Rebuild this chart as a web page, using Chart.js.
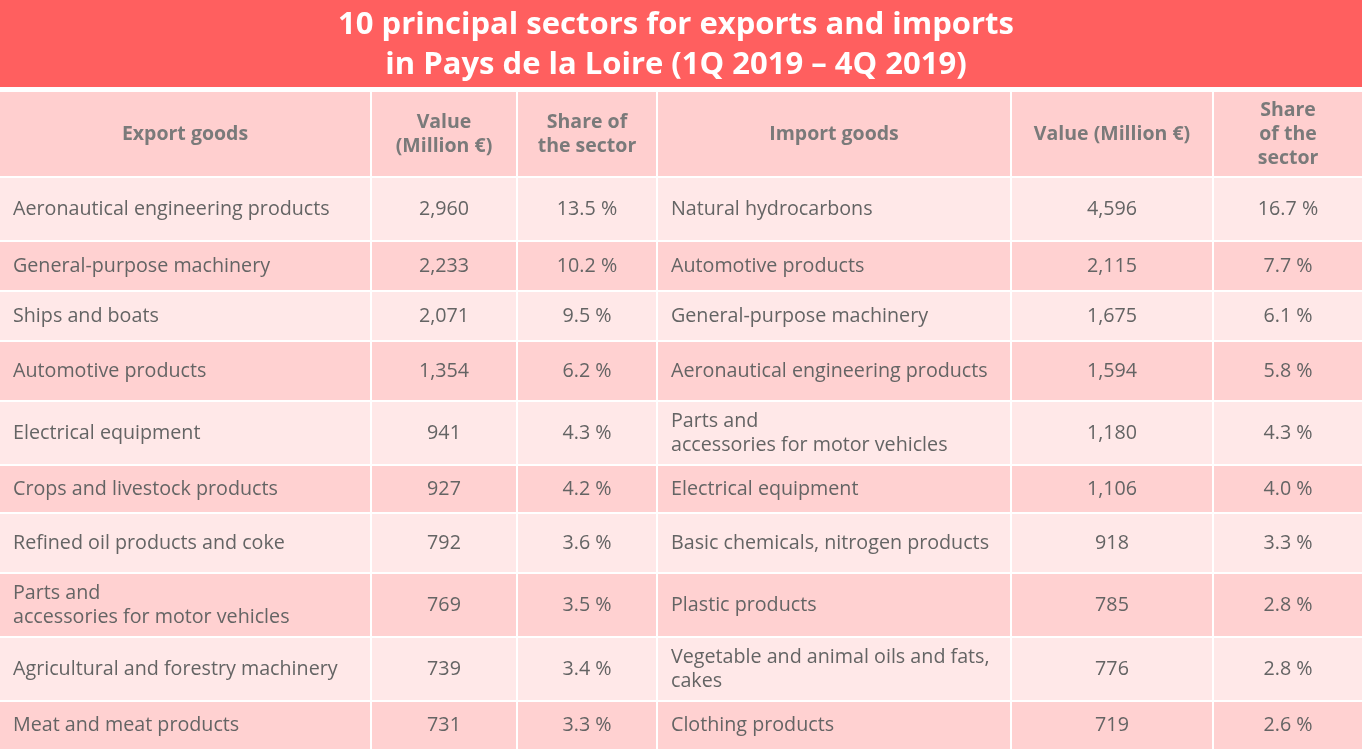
<!DOCTYPE html>
<html>
<head>
<meta charset="utf-8">
<script src="https://cdn.jsdelivr.net/npm/chart.js@4.4.1/dist/chart.umd.min.js"></script>
<style>
  body { margin: 0; background: #fff; }
  #wrap { width: 1362px; height: 752px; }
</style>
</head>
<body>
<div id="wrap"><canvas id="myChart" width="1362" height="752"></canvas></div>
<script>
// Table content
const titleLines = ['10 principal sectors for exports and imports', 'in Pays de la Loire (1Q 2019 \u2013 4Q 2019)'];
const headers = ['Export goods', 'Value\n(Million \u20ac)', 'Share of\nthe sector', 'Import goods', 'Value (Million \u20ac)', 'Share\nof the\nsector'];

const exportGoods = [
    'Aeronautical engineering products',
    'General-purpose machinery',
    'Ships and boats',
    'Automotive products',
    'Electrical equipment',
    'Crops and livestock products',
    'Refined oil products and coke',
    'Parts and\naccessories for motor vehicles',
    'Agricultural and forestry machinery',
    'Meat and meat products'
];
const exportValues = [2960, 2233, 2071, 1354, 941, 927, 792, 769, 739, 731];
const exportShares = [13.5, 10.2, 9.5, 6.2, 4.3, 4.2, 3.6, 3.5, 3.4, 3.3];

const importGoods = [
    'Natural hydrocarbons',
    'Automotive products',
    'General-purpose machinery',
    'Aeronautical engineering products',
    'Parts and\naccessories for motor vehicles',
    'Electrical equipment',
    'Basic chemicals, nitrogen products',
    'Plastic products',
    'Vegetable and animal oils and fats,\ncakes',
    'Clothing products'
];
const importValues = [4596, 2115, 1675, 1594, 1180, 1106, 918, 785, 776, 719];
const importShares = [16.7, 7.7, 6.1, 5.8, 4.3, 4.0, 3.3, 2.8, 2.8, 2.6];

// layout (page units, mapped through the x / y scales)
const colEdges = [0, 371, 517, 657, 1011, 1213, 1362];
const rowEdges = [92, 177, 241, 291, 341, 401, 465, 513, 573, 637, 701, 750];
const colAlign = ['left', 'center', 'center', 'left', 'center', 'center'];

const fmtValue = v => v.toLocaleString('en-US');
const fmtShare = v => v.toFixed(1) + ' %';

function drawLines(ctx, text, x, yMid, lineH) {
    const lines = text.split('\n');
    const top = yMid - (lines.length - 1) * lineH / 2;
    lines.forEach((l, i) => ctx.fillText(l, x, top + i * lineH));
}

const tablePlugin = {
    id: 'tablePlugin',
    afterDraw(chart) {
        const ctx = chart.ctx;
        const xs = chart.scales.x, ys = chart.scales.y;
        const px = v => xs.getPixelForValue(v);
        const py = v => ys.getPixelForValue(v);

        ctx.save();
        // title band
        ctx.fillStyle = '#ff5f5f';
        ctx.fillRect(px(0), py(0), px(1362) - px(0), py(87) - py(0));
        ctx.fillStyle = '#ffffff';
        ctx.font = 'bold 31px "Open Sans"';
        ctx.textAlign = 'center';
        ctx.textBaseline = 'middle';
        titleLines.forEach((t, i) => ctx.fillText(t, px(676), py(25 + i * 40)));

        // rows: header then 10 data rows
        const rows = [headers];
        for (let i = 0; i < exportGoods.length; i++) {
            rows.push([exportGoods[i], fmtValue(exportValues[i]), fmtShare(exportShares[i]),
                       importGoods[i], fmtValue(importValues[i]), fmtShare(importShares[i])]);
        }

        rows.forEach((row, r) => {
            const y0 = py(rowEdges[r]) + (r > 0 ? 1 : 0);
            const y1 = py(rowEdges[r + 1]) - 1;
            const yMid = (py(rowEdges[r]) + py(rowEdges[r + 1])) / 2;
            let bg = '#ffcfcf';
            if (r > 0) bg = (r % 2 === 1) ? '#ffe8e8' : '#ffd1d1';
            row.forEach((cell, c) => {
                const x0 = px(colEdges[c]) + (c > 0 ? 1 : 0);
                const x1 = px(colEdges[c + 1]) - (c < colEdges.length - 2 ? 1 : 0);
                ctx.fillStyle = bg;
                ctx.fillRect(x0, y0, x1 - x0, y1 - y0);

                if (r === 0) {
                    ctx.font = 'bold 19.5px "Open Sans"';
                    ctx.fillStyle = '#7a7a7a';
                    ctx.textAlign = 'center';
                    drawLines(ctx, cell, (x0 + x1) / 2, yMid, 24);
                } else {
                    ctx.font = '19.7px "Open Sans"';
                    ctx.fillStyle = '#646464';
                    if (colAlign[c] === 'left') {
                        ctx.textAlign = 'left';
                        drawLines(ctx, cell, x0 + 13, yMid, 24);
                    } else {
                        ctx.textAlign = 'center';
                        drawLines(ctx, cell, (x0 + x1) / 2, yMid, 24);
                    }
                }
            });
        });
        ctx.restore();
    }
};

document.addEventListener('DOMContentLoaded', function() {
    var ctx = document.getElementById('myChart').getContext('2d');
    var myChart = new Chart(ctx, {
        type: 'scatter',
        data: { datasets: [] },
        options: {
            responsive: false,
            animation: false,
            devicePixelRatio: 1,
            layout: { padding: 0 },
            plugins: { legend: { display: false }, tooltip: { enabled: false } },
            scales: {
                x: { type: 'linear', min: 0, max: 1362, display: false },
                y: { type: 'linear', min: 0, max: 752, reverse: true, display: false }
            }
        },
        plugins: [tablePlugin]
    });
});
</script>
</body>
</html>
